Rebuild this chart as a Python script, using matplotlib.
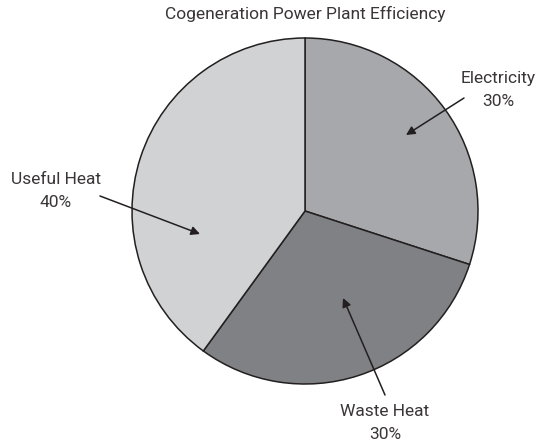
import matplotlib
matplotlib.use('Agg')
import matplotlib.pyplot as plt

# efficiency breakdown, clockwise from 12 o'clock
labels = ['Electricity', 'Waste Heat', 'Useful Heat']
shares = [30, 30, 40]
colors = ['#a7a8ab', '#808184', '#d1d2d4']

# label text positions and arrow tips (pixel coords, y measured from top)
text_xy = [(498, 90), (385, 423), (56, 191)]
tip_xy = [(406, 135), (343, 298), (200, 234)]
tail_xy = [(464, 98), (385, 395), (100, 196)]

W, H = 536, 447
plt.rcParams['font.family'] = ['Roboto', 'DejaVu Sans']

fig = plt.figure(figsize=(W / 100, H / 100), dpi=100)
ax = fig.add_axes([0, 0, 1, 1])
ax.set_xlim(0, W)
ax.set_ylim(0, H)
ax.set_aspect('equal')
ax.axis('off')

ax.pie(shares, colors=colors, startangle=90, counterclock=False,
       center=(305, H - 211), radius=173,
       wedgeprops=dict(edgecolor='#231f20', linewidth=1.1))
ax.set_xlim(0, W)
ax.set_ylim(0, H)

for lab, val, (tx, ty), (hx, hy), (sx, sy) in zip(labels, shares, text_xy, tip_xy, tail_xy):
    ax.text(tx, H - ty, f'{lab}\n{val}%', ha='center', va='center',
            fontsize=12.5, color='#3a3637', linespacing=1.6)
    ax.annotate('', xy=(hx, H - hy), xytext=(sx, H - sy),
                arrowprops=dict(arrowstyle='-|>', color='#231f20', lw=1.1,
                                mutation_scale=13, shrinkA=0, shrinkB=0))

ax.text(305, H - 14, 'Cogeneration Power Plant Efficiency', ha='center', va='center',
        fontsize=12.5, color='#3a3637')

fig.savefig('out.png', dpi=100)
